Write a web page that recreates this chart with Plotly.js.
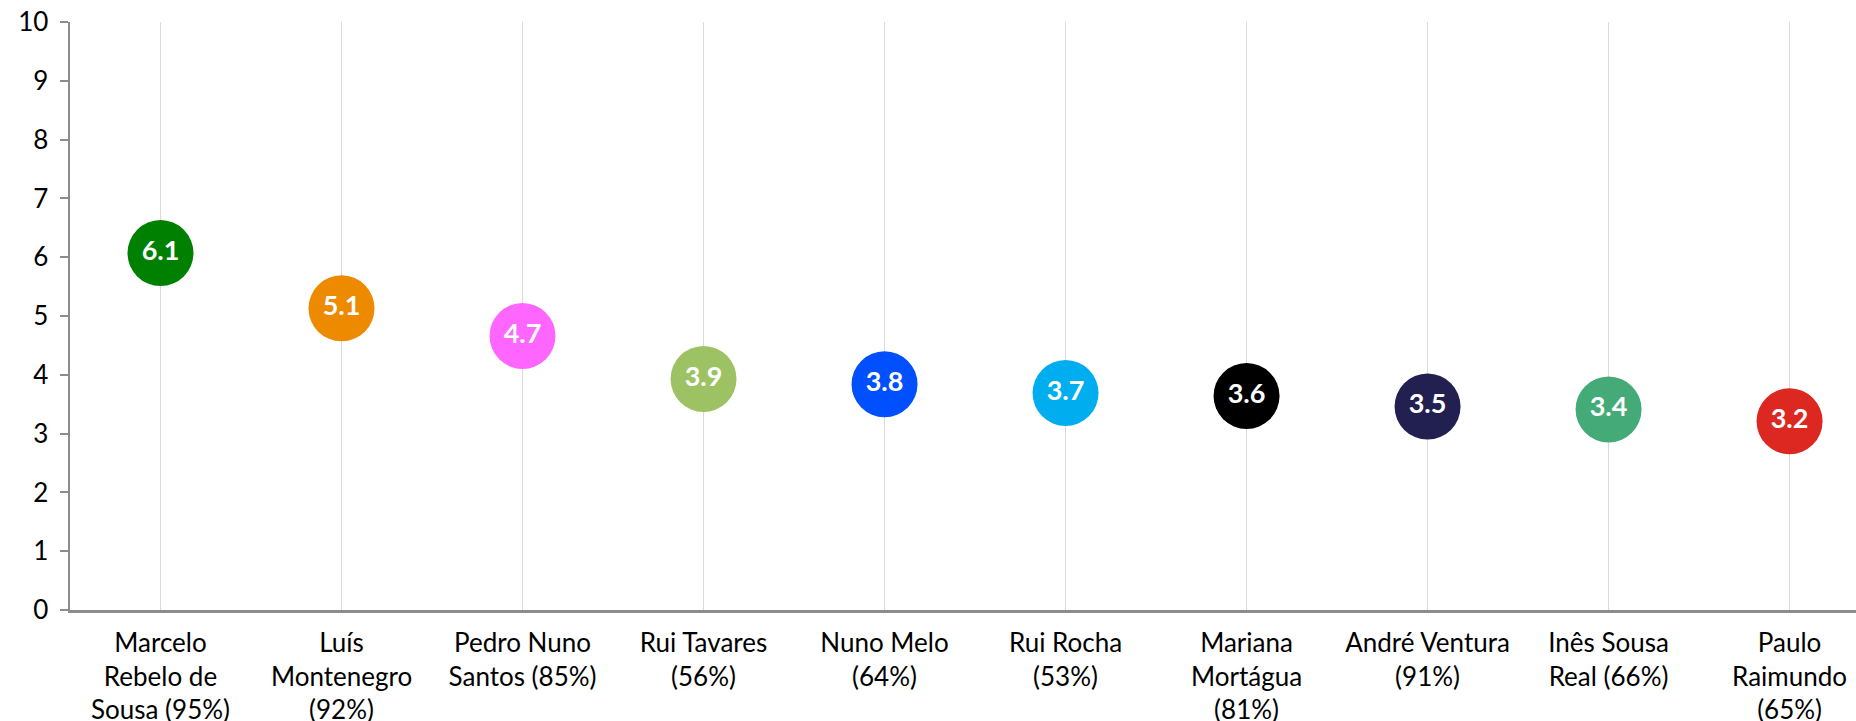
<!DOCTYPE html>
<html>
<head>
<meta charset="utf-8">
<script src="https://cdn.plot.ly/plotly-3.0.1.min.js"></script>
<style>
html,body{margin:0;padding:0;background:#fff;}
#chart{width:1856px;height:721px;}
</style>
</head>
<body>
<div id="chart"></div>
<script>
var categories = [
  "Marcelo<br>Rebelo de<br>Sousa (95%)",
  "Luís<br>Montenegro<br>(92%)",
  "Pedro Nuno<br>Santos (85%)",
  "Rui Tavares<br>(56%)",
  "Nuno Melo<br>(64%)",
  "Rui Rocha<br>(53%)",
  "Mariana<br>Mortágua<br>(81%)",
  "André Ventura<br>(91%)",
  "Inês Sousa<br>Real (66%)",
  "Paulo<br>Raimundo<br>(65%)"
];
var scores = [6.07, 5.13, 4.66, 3.93, 3.84, 3.69, 3.64, 3.46, 3.41, 3.21];
var colors = ["#008000", "#EE8A00", "#FF66FF", "#9DC263", "#0050FF", "#00AEEF", "#000000", "#222050", "#44AA77", "#DC2820"];
var yTicks = [0, 1, 2, 3, 4, 5, 6, 7, 8, 9, 10];

var idx = categories.map(function(_, i){ return i; });

var trace = {
  type: "scatter",
  mode: "markers+text",
  x: idx,
  y: scores,
  text: scores.map(function(v){ return v.toFixed(1); }),
  textposition: "middle center",
  textfont: {family: "Lato, 'Open Sans', sans-serif", size: 27, color: "#ffffff", weight: 700},
  marker: {size: 66, color: colors, line: {width: 0}},
  hoverinfo: "skip",
  showlegend: false,
  cliponaxis: false
};

var layout = {
  width: 1856,
  height: 721,
  margin: {l: 70, r: 0, t: 22, b: 111},
  paper_bgcolor: "#ffffff",
  plot_bgcolor: "#ffffff",
  font: {family: "Lato, 'Open Sans', sans-serif", color: "#000000"},
  showlegend: false,
  xaxis: {
    range: [-0.5, 9.367],
    tickmode: "array",
    tickvals: idx,
    ticktext: categories,
    showgrid: true,
    gridcolor: "#d9d9d9",
    gridwidth: 1.5,
    zeroline: false,
    showline: true,
    linecolor: "#8c8c8c",
    linewidth: 2.5,
    ticks: "",
    ticklabelstandoff: 8,
    tickfont: {size: 26, color: "#000000"},
    fixedrange: true
  },
  yaxis: {
    range: [0, 10],
    tickmode: "array",
    tickvals: yTicks,
    ticktext: yTicks.map(String),
    showgrid: false,
    zeroline: false,
    showline: true,
    linecolor: "#8c8c8c",
    linewidth: 2.5,
    ticks: "outside",
    ticklen: 8,
    tickwidth: 2,
    tickcolor: "#8c8c8c",
    ticklabelstandoff: 6,
    tickfont: {size: 26, color: "#000000"},
    fixedrange: true
  }
};

Plotly.newPlot("chart", [trace], layout, {displayModeBar: false, staticPlot: true});
</script>
</body>
</html>
